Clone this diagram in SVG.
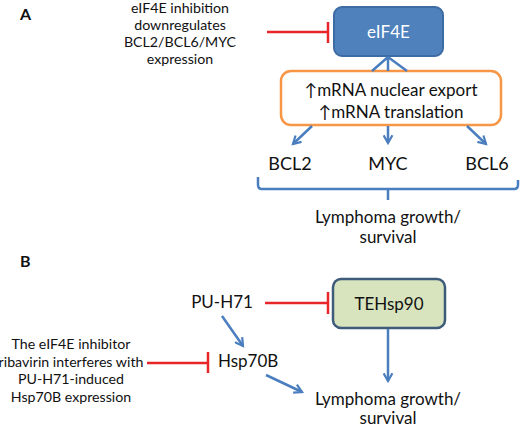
<svg xmlns="http://www.w3.org/2000/svg" width="520" height="427" viewBox="0 0 520 427">
<defs>
<style>
text{font-family:Lato,"Open Sans","Liberation Sans",sans-serif;fill:#111;text-anchor:middle}
.s{font-size:14.2px}
.m{font-size:17px}
.l{font-size:18px}
.h{font-size:16px;font-weight:bold;text-anchor:start}
.blue{stroke:#4a7ebf;stroke-width:2.5;fill:none}
.red{stroke:#e8262a;stroke-width:2.5;fill:none}
</style>
<marker id="ah" viewBox="0 0 10 10" refX="8" refY="5" markerWidth="4.4" markerHeight="4.4" orient="auto" markerUnits="strokeWidth">
<path d="M1,1 L8,5 L1,9" fill="none" stroke="#4a7ebf" stroke-width="2"/>
</marker>
</defs>
<rect width="520" height="427" fill="#fff"/>
<text class="h" x="20" y="20">A</text>
<text class="h" x="20" y="267">B</text>
<g id="noteA">
<text class="s" x="180" y="13">eIF4E inhibition</text>
<text class="s" x="180" y="30">downregulates</text>
<text class="s" x="180" y="47">BCL2/BCL6/MYC</text>
<text class="s" x="180" y="64">expression</text>
</g>
<g id="eIF4E">
<rect x="334" y="7" width="109" height="49" rx="8" fill="#4f81bd" stroke="#3d6ba3" stroke-width="2"/>
<text class="m" x="388.5" y="38" style="fill:#fff">eIF4E</text>
</g>
<g id="mrna">
<rect x="281" y="71" width="220" height="54" rx="10" fill="#fff" stroke="#f79646" stroke-width="2.5"/>
<text class="m" x="391" y="96">↑mRNA nuclear export</text>
<text class="m" x="391" y="118">↑mRNA translation</text>
</g>
<g id="bcl2"><text class="l" x="290" y="170">BCL2</text></g>
<g id="myc"><text class="l" x="388" y="170">MYC</text></g>
<g id="bcl6"><text class="l" x="487" y="170">BCL6</text></g>
<g id="lymA">
<text class="m" x="388" y="223">Lymphoma growth/</text>
<text class="m" x="388" y="243">survival</text>
</g>
<g id="puh71"><text class="m" x="222" y="308">PU-H71</text></g>
<g id="hsp70b"><text class="m" x="218" y="367" style="text-anchor:start">Hsp70B</text></g>
<g id="noteB">
<text class="s" x="71" y="349">The eIF4E inhibitor</text>
<text class="s" x="71" y="367">ribavirin interferes with</text>
<text class="s" x="71" y="384">PU-H71-induced</text>
<text class="s" x="71" y="402">Hsp70B expression</text>
</g>
<g id="tehsp90">
<rect x="333" y="279" width="112" height="49" rx="8" fill="#d7e4bd" stroke="#3e5b7c" stroke-width="2.5"/>
<text class="m" x="389" y="310">TEHsp90</text>
</g>
<g id="lymB">
<text class="m" x="388" y="405">Lymphoma growth/</text>
<text class="m" x="388" y="424">survival</text>
</g>
<g id="connectors">
<path class="red" d="M267,32 H328 M328,22 V43"/>
<path class="blue" d="M388,57 V71 M388,57 L372,71 M388,57 L407,71"/>
<path class="blue" d="M312,126 L293,144" marker-end="url(#ah)"/>
<path class="blue" d="M388,126 V143" marker-end="url(#ah)"/>
<path class="blue" d="M467,126 L486,144" marker-end="url(#ah)"/>
<path class="blue" d="M258,177 V185 Q258,189 262,189 H514 Q518,189 518,185 V180 M388,189 V200"/>
<path class="red" d="M265,303 H328 M328,292 V314"/>
<path class="red" d="M147,363 H208 M208,352 V373"/>
<path class="blue" d="M222,316 L243,346" marker-end="url(#ah)"/>
<path class="blue" d="M266,375 L302,392" marker-end="url(#ah)"/>
<path class="blue" d="M388,329 V381" marker-end="url(#ah)"/>
</g>
</svg>
